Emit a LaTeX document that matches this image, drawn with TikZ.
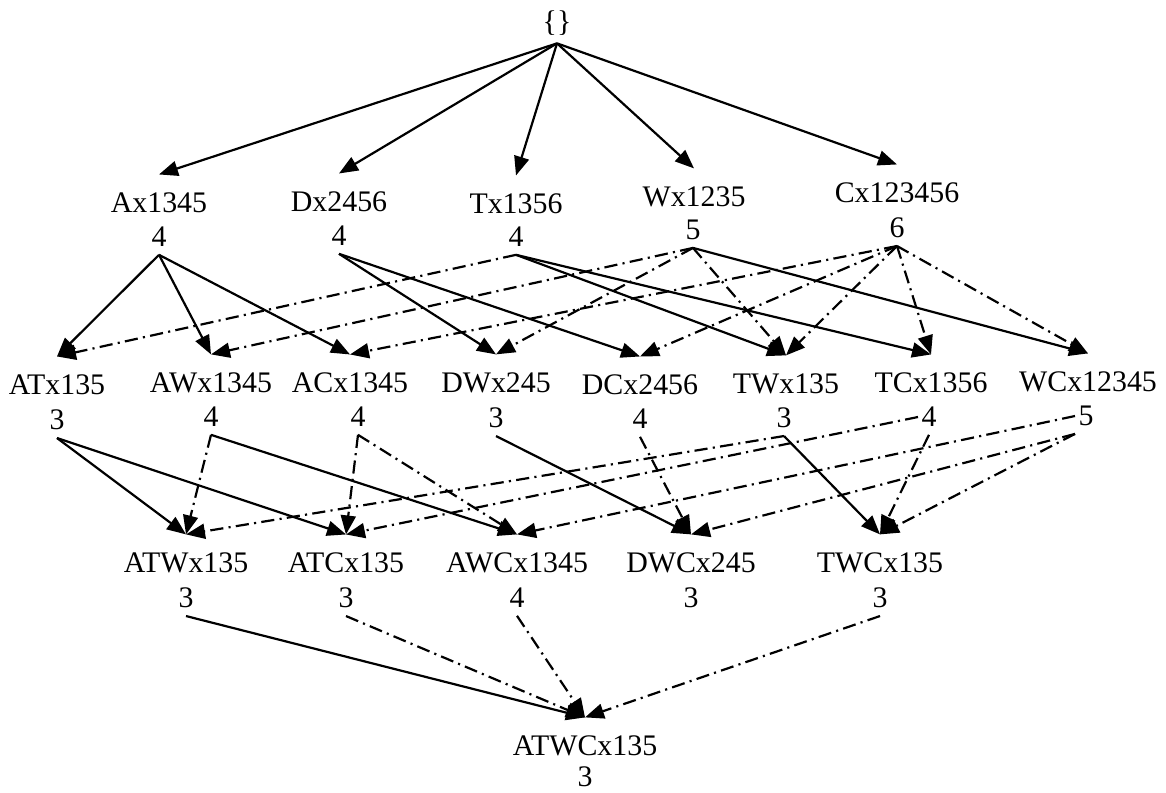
\documentclass[tikz,border=0pt]{standalone}
\usepackage{fontspec}
\setmainfont{Liberation Serif}
\usetikzlibrary{arrows.meta}
\tikzset{
  lbl/.style={font=\fontsize{17}{18}\selectfont,inner sep=0pt,outer xsep=1pt,outer ysep=0.37cm},
  cnt/.style={font=\fontsize{17}{18}\selectfont,inner sep=0pt,outer xsep=2pt,outer ysep=0.16cm},
  ar/.style={draw,-{Triangle[length=3.8mm,width=3mm]},line width=1.25pt},
  dd/.style={ar,dash pattern=on 7.5pt off 3pt on 1.2pt off 3pt}
}

\begin{document}
\begin{tikzpicture}[x=0.02cm,y=-0.02cm]
\useasboundingbox (0,0) rectangle (1166,793);
% empty set on top
\node[cnt] (root) at (557,23) {\{\}};
% single items
\node[lbl] (ax) at (159,203) {Ax1345}; \node[cnt] (ax-n) at (159,237) {4};
\node[lbl] (dx) at (339,202) {Dx2456}; \node[cnt] (dx-n) at (339,236) {4};
\node[lbl] (tx) at (516,204) {Tx1356}; \node[cnt] (tx-n) at (516,237) {4};
\node[lbl] (wx) at (694,197) {Wx1235}; \node[cnt] (wx-n) at (693,230) {5};
\node[lbl] (cx) at (897,193) {Cx123456}; \node[cnt] (cx-n) at (897,228) {6};
% pairs
\node[lbl] (atx) at (57,385) {ATx135}; \node[cnt] (atx-n) at (57,420) {3};
\node[lbl] (awx) at (211,383) {AWx1345}; \node[cnt] (awx-n) at (211,417) {4};
\node[lbl] (acx) at (350,383) {ACx1345}; \node[cnt] (acx-n) at (358,417) {4};
\node[lbl] (dwx) at (496,383) {DWx245}; \node[cnt] (dwx-n) at (496,418) {3};
\node[lbl] (dcx) at (640,385) {DCx2456}; \node[cnt] (dcx-n) at (640,419) {4};
\node[lbl] (twx) at (786,384) {TWx135}; \node[cnt] (twx-n) at (784,418) {3};
\node[lbl] (tcx) at (931,383) {TCx1356}; \node[cnt] (tcx-n) at (929,417) {4};
\node[lbl] (wcx) at (1088,382) {WCx12345}; \node[cnt] (wcx-n) at (1086,416) {5};
% triples
\node[lbl] (atwx) at (186,563) {ATWx135}; \node[cnt] (atwx-n) at (186,598) {3};
\node[lbl] (atcx) at (346,563) {ATCx135}; \node[cnt] (atcx-n) at (346,598) {3};
\node[lbl] (awcx) at (517,563) {AWCx1345}; \node[cnt] (awcx-n) at (517,598) {4};
\node[lbl] (dwcx) at (691,563) {DWCx245}; \node[cnt] (dwcx-n) at (691,598) {3};
\node[lbl] (twcx) at (880,563) {TWCx135}; \node[cnt] (twcx-n) at (880,598) {3};
% all four
\node[lbl] (atwcx) at (585,746) {ATWCx135}; \node[cnt] (atwcx-n) at (585,777) {3};

\path (root.south) edge[ar] (ax.north) edge[ar] (dx.north) edge[ar] (tx.north)
  edge[ar] (wx.north) edge[ar] (cx.north);
% items -> pairs
\path (ax-n.south) edge[ar] (atx.north) edge[ar] (awx.north) edge[ar] (acx.north);
\path (dx-n.south) edge[ar] (dwx.north) edge[ar] (dcx.north);
\path (tx-n.south) edge[ar] (twx.north) edge[ar] (tcx.north) edge[dd] (atx.north);
\path (wx-n.south) edge[dd] (awx.north) edge[dd] (dwx.north) edge[dd] (twx.north)
  edge[ar] (wcx.north);
\path (cx-n.south) edge[dd] (acx.north) edge[dd] (dcx.north) edge[dd] (twx.north)
  edge[dd] (tcx.north) edge[dd] (wcx.north);
% pairs -> triples
\path (atx-n.south) edge[ar] (atwx.north) edge[ar] (atcx.north);
\path (awx-n.south) edge[ar] (awcx.north) edge[dd] (atwx.north);
\path (acx-n.south) edge[dd] (atcx.north) edge[dd] (awcx.north);
\path (dwx-n.south) edge[ar] (dwcx.north);
\path (dcx-n.south) edge[dd] (dwcx.north);
\path (twx-n.south) edge[ar] (twcx.north) edge[dd] (atwx.north);
\path (tcx-n.west) edge[dd] (atcx.north);
\path (tcx-n.south) edge[dd] (twcx.north);
\path (wcx-n.west) edge[dd] (awcx.north);
\path (wcx-n.south west) edge[dd] (dwcx.north) edge[dd] (twcx.north);
% triples -> ATWC
\path (atwx-n.south) edge[ar] (atwcx.north);
\path (atcx-n.south) edge[dd] (atwcx.north);
\path (awcx-n.south) edge[dd] (atwcx.north);
\path (twcx-n.south) edge[dd] (atwcx.north);
\end{tikzpicture}
\end{document}
